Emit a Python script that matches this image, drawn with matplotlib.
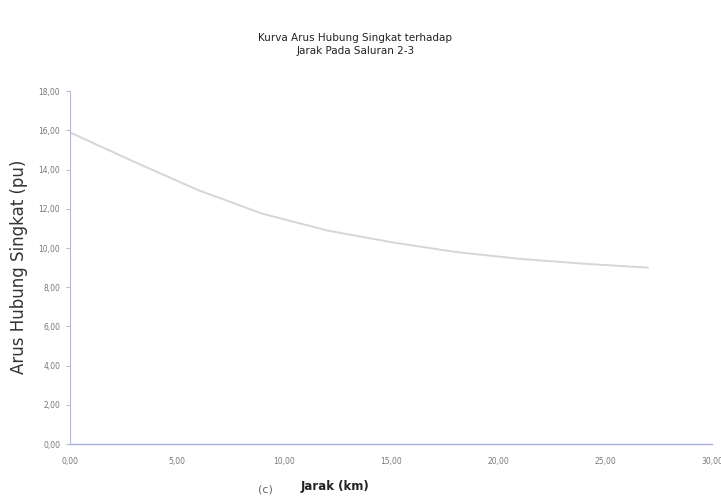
import matplotlib
matplotlib.use("Agg")
import matplotlib.pyplot as plt
from matplotlib.ticker import FuncFormatter

# Data
jarak_km = [0, 3, 6, 9, 12, 15, 18, 21, 24, 27]
arus_pu = [15.9, 14.4, 12.95, 11.75, 10.9, 10.3, 9.8, 9.45, 9.2, 9.0]
x_ticks = [0, 5, 10, 15, 20, 25, 30]
y_ticks = [0, 2, 4, 6, 8, 10, 12, 14, 16, 18]

title = "Kurva Arus Hubung Singkat terhadap\nJarak Pada Saluran 2-3"
xlabel = "Jarak (km)"
ylabel = "Arus Hubung Singkat (pu)"

fig = plt.figure(figsize=(7.21, 5.04), dpi=100)
ax = fig.add_axes([0.097, 0.119, 0.8905, 0.7])

ax.plot(jarak_km, arus_pu, color="#d6d6d6", linewidth=1.4)

ax.set_xlim(0, 30)
ax.set_ylim(0, 18)
ax.set_xticks(x_ticks)
ax.set_yticks(y_ticks)
fmt = FuncFormatter(lambda v, p: f"{v:.2f}".replace(".", ","))
ax.xaxis.set_major_formatter(fmt)
ax.yaxis.set_major_formatter(fmt)

for s in ["top", "right"]:
    ax.spines[s].set_visible(False)
ax.spines["left"].set_color("#b8bcd0")
ax.spines["bottom"].set_color("#a8aee0")
ax.spines["left"].set_linewidth(0.8)
ax.spines["bottom"].set_linewidth(1.0)

ax.tick_params(axis="y", length=3, color="#b8bcd0", labelsize=5.5,
               labelcolor="#777777", pad=4)
ax.tick_params(axis="x", length=0, labelsize=5.5, labelcolor="#777777", pad=9)

fig.text(0.493, 0.912, title, ha="center", va="center", fontsize=7.5,
         color="#222222", linespacing=1.45)
fig.text(0.465, 0.034, xlabel, ha="center", va="center", fontsize=8.5,
         fontweight="bold", color="#222222")
fig.text(0.368, 0.028, "(c)", ha="center", va="center", fontsize=8,
         color="#666666")
fig.text(0.027, 0.47, ylabel, ha="center", va="center", rotation=90,
         fontsize=12, color="#333333")

fig.savefig("out.png", dpi=100)
